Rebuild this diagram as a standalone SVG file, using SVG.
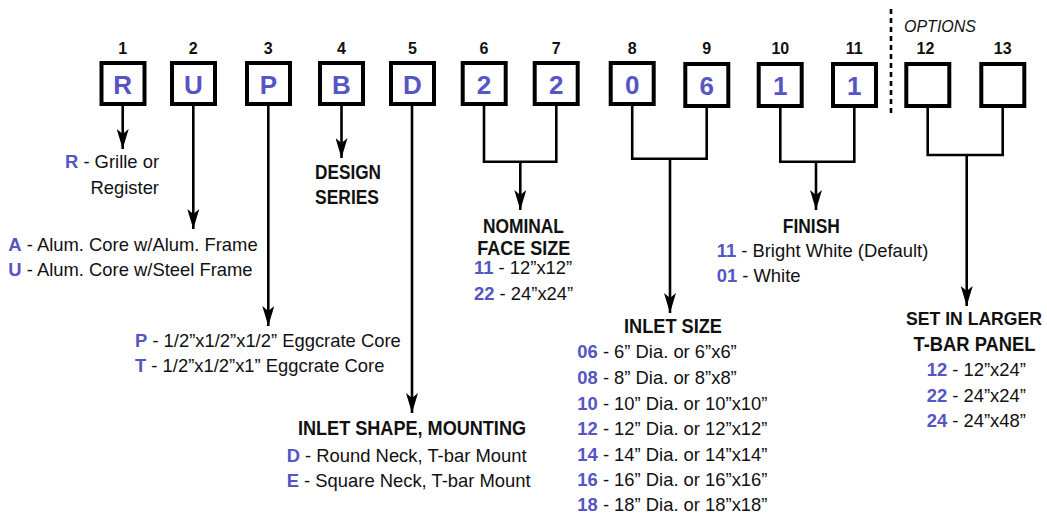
<svg xmlns="http://www.w3.org/2000/svg" width="1047" height="514" viewBox="0 0 1047 514">
<style>
text{font-family:"Liberation Sans",Arial,sans-serif;fill:#111}
.box{fill:#fff;stroke:#000;stroke-width:4}
.num{font-size:16px;font-weight:bold;text-anchor:middle}
.let{font-size:26px;font-weight:bold;fill:#5555c5;text-anchor:middle}
.hd{font-size:20px;font-weight:bold;text-anchor:middle}
.tx{font-size:18.4px}
.b{font-weight:bold;fill:#5555c5}
.ln{fill:none;stroke:#000;stroke-width:2.6}
.ar{marker-end:url(#ah)}
</style>
<defs>
<marker id="ah" viewBox="0 0 20 12" refX="20" refY="6" markerWidth="20" markerHeight="12" markerUnits="userSpaceOnUse" orient="auto">
<path d="M0,0 L20,6 L0,12 L5,6 Z" fill="#000"/>
</marker>
</defs>
<rect width="1047" height="514" fill="#fff"/>

<g id="connectors">
<path class="ln ar" d="M122.7,106 V149"/>
<path class="ln ar" d="M193.3,106 V229"/>
<path class="ln ar" d="M268.3,106 V326"/>
<path class="ln ar" d="M341.5,106 V158"/>
<path class="ln ar" d="M412,106 V413"/>
<path class="ln" d="M484,106 V161.7 H556.3 V106"/>
<path class="ln ar" d="M520.3,161.7 V210"/>
<path class="ln" d="M632.2,106 V158.7 H706.7 V107"/>
<path class="ln ar" d="M670,158.7 V313"/>
<path class="ln" d="M780.3,107 V161.7 H854.3 V107"/>
<path class="ln ar" d="M816,161.7 V210"/>
<path class="ln" d="M927.7,107 V155 H1002.7 V107"/>
<path class="ln ar" d="M966.7,155 V306"/>
<path d="M891,9 V117" fill="none" stroke="#000" stroke-width="2.6" stroke-dasharray="5,4"/>
</g>

<g id="box1"><text class="num" x="122.7" y="54">1</text><rect class="box" x="101.5" y="63" width="43" height="41"/><text class="let" x="122.7" y="94">R</text></g>
<g id="box2"><text class="num" x="193.3" y="54">2</text><rect class="box" x="172" y="63" width="43" height="41"/><text class="let" x="193.3" y="94">U</text></g>
<g id="box3"><text class="num" x="268.3" y="54">3</text><rect class="box" x="247" y="63" width="43" height="41"/><text class="let" x="268.3" y="94">P</text></g>
<g id="box4"><text class="num" x="341.5" y="54">4</text><rect class="box" x="320" y="63" width="43" height="41"/><text class="let" x="341.5" y="94">B</text></g>
<g id="box5"><text class="num" x="412.5" y="54">5</text><rect class="box" x="391" y="63" width="43" height="41"/><text class="let" x="412.5" y="94">D</text></g>
<g id="box6"><text class="num" x="484" y="54">6</text><rect class="box" x="462.7" y="63" width="43" height="41"/><text class="let" x="484" y="94">2</text></g>
<g id="box7"><text class="num" x="556.3" y="54">7</text><rect class="box" x="534.7" y="63" width="43" height="41"/><text class="let" x="556.3" y="94">2</text></g>
<g id="box8"><text class="num" x="632.2" y="54">8</text><rect class="box" x="610.7" y="63" width="43" height="41"/><text class="let" x="632.2" y="94">0</text></g>
<g id="box9"><text class="num" x="706.7" y="54">9</text><rect class="box" x="685.3" y="64" width="43" height="42"/><text class="let" x="706.7" y="94.5">6</text></g>
<g id="box10"><text class="num" x="780.3" y="54">10</text><rect class="box" x="758.7" y="64" width="43" height="42"/><text class="let" x="780.3" y="94.5">1</text></g>
<g id="box11"><text class="num" x="854.3" y="54">11</text><rect class="box" x="833" y="64" width="43" height="42"/><text class="let" x="854.3" y="94.5">1</text></g>
<g id="box12"><text class="num" x="925.5" y="54">12</text><rect class="box" x="906.3" y="64" width="43" height="42"/></g>
<g id="box13"><text class="num" x="1002.7" y="54">13</text><rect class="box" x="981.3" y="64" width="43" height="42"/></g>

<g id="options"><text x="904" y="31.7" font-size="16" font-style="italic">OPTIONS</text></g>

<g id="label-type">
<text class="tx" x="65" y="168"><tspan class="b">R</tspan> - Grille or</text>
<text class="tx" x="159" y="194" text-anchor="end">Register</text>
</g>
<g id="label-frame">
<text class="tx" x="8.3" y="250.7"><tspan class="b">A</tspan> - Alum. Core w/Alum. Frame</text>
<text class="tx" x="8.3" y="276"><tspan class="b">U</tspan> - Alum. Core w/Steel Frame</text>
</g>
<g id="label-core">
<text class="tx" x="135" y="346.7"><tspan class="b">P</tspan> - 1/2”x1/2”x1/2” Eggcrate Core</text>
<text class="tx" x="135" y="372"><tspan class="b">T</tspan> - 1/2”x1/2”x1” Eggcrate Core</text>
</g>
<g id="label-design">
<text class="hd" x="348" y="179.3" textLength="66" lengthAdjust="spacingAndGlyphs">DESIGN</text>
<text class="hd" x="347" y="204" textLength="64" lengthAdjust="spacingAndGlyphs">SERIES</text>
</g>
<g id="label-inlet-shape">
<text class="hd" x="412" y="435" textLength="228" lengthAdjust="spacingAndGlyphs">INLET SHAPE, MOUNTING</text>
<text class="tx" x="286.7" y="461.7"><tspan class="b">D</tspan> - Round Neck, T-bar Mount</text>
<text class="tx" x="286.7" y="486.7"><tspan class="b">E</tspan> - Square Neck, T-bar Mount</text>
</g>
<g id="label-face">
<text class="hd" x="523.4" y="233.3" textLength="81" lengthAdjust="spacingAndGlyphs">NOMINAL</text>
<text class="hd" x="523.7" y="255" textLength="93" lengthAdjust="spacingAndGlyphs">FACE SIZE</text>
<text class="tx" x="474" y="274"><tspan class="b">11</tspan> - 12”x12”</text>
<text class="tx" x="474" y="299.5"><tspan class="b">22</tspan> - 24”x24”</text>
</g>
<g id="label-inlet-size">
<text class="hd" x="673" y="333.3" textLength="98" lengthAdjust="spacingAndGlyphs">INLET SIZE</text>
<text class="tx" x="577.3" y="358.3"><tspan class="b">06</tspan> - 6” Dia. or 6”x6”</text>
<text class="tx" x="577.3" y="384.3"><tspan class="b">08</tspan> - 8” Dia. or 8”x8”</text>
<text class="tx" x="577.3" y="410"><tspan class="b">10</tspan> - 10” Dia. or 10”x10”</text>
<text class="tx" x="577.3" y="435.3"><tspan class="b">12</tspan> - 12” Dia. or 12”x12”</text>
<text class="tx" x="577.3" y="460.7"><tspan class="b">14</tspan> - 14” Dia. or 14”x14”</text>
<text class="tx" x="577.3" y="486"><tspan class="b">16</tspan> - 16” Dia. or 16”x16”</text>
<text class="tx" x="577.3" y="511.3"><tspan class="b">18</tspan> - 18” Dia. or 18”x18”</text>
</g>
<g id="label-finish">
<text class="hd" x="811.3" y="233.3" textLength="57" lengthAdjust="spacingAndGlyphs">FINISH</text>
<text class="tx" x="716.7" y="256.7"><tspan class="b">11</tspan> - Bright White (Default)</text>
<text class="tx" x="716.7" y="281.7"><tspan class="b">01</tspan> - White</text>
</g>
<g id="label-panel">
<text class="hd" x="974" y="325" font-size="18" textLength="136" lengthAdjust="spacingAndGlyphs" style="font-size:18px">SET IN LARGER</text>
<text class="hd" x="974.5" y="350.7" textLength="122" lengthAdjust="spacingAndGlyphs">T-BAR PANEL</text>
<text class="tx" x="926.7" y="376"><tspan class="b">12</tspan> - 12”x24”</text>
<text class="tx" x="926.7" y="401.7"><tspan class="b">22</tspan> - 24”x24”</text>
<text class="tx" x="926.7" y="426.7"><tspan class="b">24</tspan> - 24”x48”</text>
</g>
</svg>
